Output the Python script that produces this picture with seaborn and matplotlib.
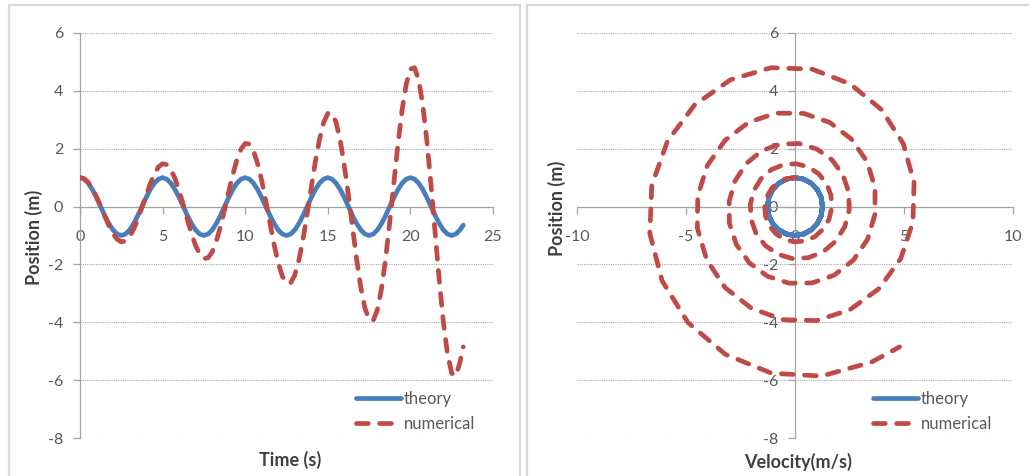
import numpy as np
import pandas as pd
import matplotlib
matplotlib.use("Agg")
import matplotlib.pyplot as plt
from matplotlib.lines import Line2D
from matplotlib.patches import Rectangle
import seaborn as sns

# ---------------------------------------------------------------------------
# Data: harmonic oscillator, exact solution vs. explicit (forward) integration
# ---------------------------------------------------------------------------
time_s = [
    0.0, 0.25, 0.5, 0.75, 1.0, 1.25, 1.5, 1.75, 2.0, 2.25,
    2.5, 2.75, 3.0, 3.25, 3.5, 3.75, 4.0, 4.25, 4.5, 4.75,
    5.0, 5.25, 5.5, 5.75, 6.0, 6.25, 6.5, 6.75, 7.0, 7.25,
    7.5, 7.75, 8.0, 8.25, 8.5, 8.75, 9.0, 9.25, 9.5, 9.75,
    10.0, 10.25, 10.5, 10.75, 11.0, 11.25, 11.5, 11.75, 12.0, 12.25,
    12.5, 12.75, 13.0, 13.25, 13.5, 13.75, 14.0, 14.25, 14.5, 14.75,
    15.0, 15.25, 15.5, 15.75, 16.0, 16.25, 16.5, 16.75, 17.0, 17.25,
    17.5, 17.75, 18.0, 18.25, 18.5, 18.75, 19.0, 19.25, 19.5, 19.75,
    20.0, 20.25, 20.5, 20.75, 21.0, 21.25, 21.5, 21.75, 22.0, 22.25,
    22.5, 22.75, 23.0, 23.2,
]

theory_position = [
    1.00, 0.95, 0.81, 0.59, 0.31, 0.00, -0.31, -0.59, -0.81, -0.95,
    -1.00, -0.95, -0.81, -0.59, -0.31, 0.00, 0.31, 0.59, 0.81, 0.95,
    1.00, 0.95, 0.81, 0.59, 0.31, 0.00, -0.31, -0.59, -0.81, -0.95,
    -1.00, -0.95, -0.81, -0.59, -0.31, 0.00, 0.31, 0.59, 0.81, 0.95,
    1.00, 0.95, 0.81, 0.59, 0.31, 0.00, -0.31, -0.59, -0.81, -0.95,
    -1.00, -0.95, -0.81, -0.59, -0.31, 0.00, 0.31, 0.59, 0.81, 0.95,
    1.00, 0.95, 0.81, 0.59, 0.31, 0.00, -0.31, -0.59, -0.81, -0.95,
    -1.00, -0.95, -0.81, -0.59, -0.31, 0.00, 0.31, 0.59, 0.81, 0.95,
    1.00, 0.95, 0.81, 0.59, 0.31, 0.00, -0.31, -0.59, -0.81, -0.95,
    -1.00, -0.95, -0.81, -0.64,
]

theory_velocity = [
    0.00, -0.39, -0.74, -1.02, -1.20, -1.26, -1.20, -1.02, -0.74, -0.39,
    0.00, 0.39, 0.74, 1.02, 1.20, 1.26, 1.20, 1.02, 0.74, 0.39,
    0.00, -0.39, -0.74, -1.02, -1.20, -1.26, -1.20, -1.02, -0.74, -0.39,
    0.00, 0.39, 0.74, 1.02, 1.20, 1.26, 1.20, 1.02, 0.74, 0.39,
    0.00, -0.39, -0.74, -1.02, -1.20, -1.26, -1.20, -1.02, -0.74, -0.39,
    0.00, 0.39, 0.74, 1.02, 1.20, 1.26, 1.20, 1.02, 0.74, 0.39,
    0.00, -0.39, -0.74, -1.02, -1.20, -1.26, -1.20, -1.02, -0.74, -0.39,
    0.00, 0.39, 0.74, 1.02, 1.20, 1.26, 1.20, 1.02, 0.74, 0.39,
    0.00, -0.39, -0.74, -1.02, -1.20, -1.26, -1.20, -1.02, -0.74, -0.39,
    0.00, 0.39, 0.74, 0.97,
]

numerical_position = [
    1.00, 0.97, 0.84, 0.63, 0.34, 0.01, -0.34, -0.66, -0.94, -1.13,
    -1.22, -1.19, -1.04, -0.78, -0.44, -0.03, 0.39, 0.79, 1.13, 1.37,
    1.48, 1.45, 1.28, 0.97, 0.55, 0.07, -0.45, -0.94, -1.35, -1.65,
    -1.80, -1.77, -1.57, -1.20, -0.70, -0.11, 0.51, 1.11, 1.62, 1.99,
    2.18, 2.16, 1.93, 1.49, 0.89, 0.18, -0.58, -1.31, -1.95, -2.41,
    -2.65, -2.64, -2.37, -1.85, -1.13, -0.26, 0.66, 1.56, 2.33, 2.91,
    3.22, 3.23, 2.91, 2.29, 1.42, 0.38, -0.74, -1.84, -2.80, -3.51,
    -3.91, -3.94, -3.57, -2.84, -1.80, -0.53, 0.83, 2.17, 3.35, 4.24,
    4.75, 4.80, 4.38, 3.51, 2.26, 0.73, -0.93, -2.56, -4.01, -5.11,
    -5.76, -5.86, -5.38, -4.85,
]

numerical_velocity = [
    0.00, -0.39, -0.77, -1.07, -1.29, -1.39, -1.35, -1.18, -0.88, -0.48,
    -0.03, 0.45, 0.91, 1.29, 1.56, 1.69, 1.65, 1.45, 1.09, 0.62,
    0.06, -0.52, -1.08, -1.55, -1.89, -2.05, -2.01, -1.78, -1.36, -0.78,
    -0.11, 0.60, 1.28, 1.86, 2.28, 2.49, 2.46, 2.19, 1.69, 1.00,
    0.18, -0.69, -1.52, -2.23, -2.75, -3.02, -3.01, -2.69, -2.09, -1.26,
    -0.27, 0.78, 1.80, 2.68, 3.33, 3.67, 3.67, 3.30, 2.59, 1.59,
    0.40, -0.88, -2.13, -3.21, -4.02, -4.46, -4.48, -4.05, -3.21, -2.01,
    -0.57, 0.99, 2.51, 3.85, 4.85, 5.41, 5.46, 4.97, 3.97, 2.53,
    0.79, -1.11, -2.97, -4.61, -5.85, -6.57, -6.66, -6.10, -4.91, -3.19,
    -1.08, 1.22, 3.50, 4.80,
]

series_names = ["theory", "numerical"]
time_ticks = [0, 5, 10, 15, 20, 25]
velocity_ticks = [-10, -5, 0, 5, 10]
position_ticks = [-8, -6, -4, -2, 0, 2, 4, 6]

# ---------------------------------------------------------------------------
# Styling
# ---------------------------------------------------------------------------
sns.set_style("white")
plt.rcParams["font.family"] = ["Lato", "DejaVu Sans"]
plt.rcParams["axes.unicode_minus"] = False

BLUE = "#4A7EBB"
RED = "#BE4B48"
palette = {"theory": BLUE, "numerical": RED}
dashes = {"theory": "", "numerical": (2.5, 2.4)}
LINE_W = 3.4
AXIS_GREY = "#a3a3a3"
GRID_GREY = "#a8a8a8"
TICK_TEXT = "#595959"
TITLE_TEXT = "#3f3f3f"

n = len(time_s)
df = pd.DataFrame({
    "time": time_s * 2,
    "position": theory_position + numerical_position,
    "velocity": theory_velocity + numerical_velocity,
    "series": ["theory"] * n + ["numerical"] * n,
})

W, H = 1029, 476
fig = plt.figure(figsize=(W / 100, H / 100), dpi=100)
fig.patch.set_facecolor("white")

# chart-area frames
for x0, x1 in [(9, 520), (527, 1040)]:
    fig.patches.append(Rectangle((x0 / W, -0.05), (x1 - x0) / W, (H - 5) / H + 0.05,
                                 transform=fig.transFigure, fill=False,
                                 edgecolor="#d9d9d9", linewidth=1.6, zorder=0))

ax1 = fig.add_axes([80 / W, 1 - 438 / H, 413 / W, 405 / H])
ax2 = fig.add_axes([577 / W, 1 - 438 / H, 436 / W, 405 / H])

common = dict(hue="series", style="series", hue_order=series_names,
              style_order=series_names, palette=palette, dashes=dashes,
              linewidth=LINE_W, estimator=None, sort=False, legend=False)

sns.lineplot(data=df, x="time", y="position", ax=ax1, **common)
sns.lineplot(data=df, x="velocity", y="position", ax=ax2, **common)


def style_axes(ax, xlim, xticks):
    ax.set_xlim(*xlim)
    ax.set_ylim(-8, 6)
    ax.set_xticks(xticks)
    ax.set_yticks(position_ticks)
    ax.set_facecolor("none")
    ax.set_axisbelow(True)
    for side in ("top", "right"):
        ax.spines[side].set_visible(False)
    for side in ("left", "bottom"):
        ax.spines[side].set_position(("data", 0))
        ax.spines[side].set_color(AXIS_GREY)
        ax.spines[side].set_linewidth(0.9)
        ax.spines[side].set_zorder(1)
    ax.yaxis.grid(True, linestyle=(0, (1, 1)), color=GRID_GREY, linewidth=0.8)
    ax.xaxis.grid(False)
    ax.tick_params(axis="y", direction="out", length=5, width=0.9, color=AXIS_GREY,
                   pad=7, labelsize=11.5, labelcolor=TICK_TEXT, left=True)
    ax.tick_params(axis="x", direction="out", length=5, width=0.9, color=AXIS_GREY,
                   pad=12, labelsize=11.5, labelcolor=TICK_TEXT, bottom=True)
    for line in ax.lines:
        line.set_dash_capstyle("round")
        line.set_solid_capstyle("round")
        line.set_solid_joinstyle("round")
        line.set_zorder(3)


style_axes(ax1, (0, 25), time_ticks)
style_axes(ax2, (-10, 10), velocity_ticks)

label_font = dict(fontsize=13, fontweight="bold", color=TITLE_TEXT)
ax1.set_xlabel("Time (s)", **label_font)
ax1.set_ylabel("Position (m)", **label_font)
ax2.set_xlabel("Velocity(m/s)", **label_font)
ax2.set_ylabel("Position (m)", **label_font)
ax1.xaxis.set_label_coords(0.508, -0.033)
ax1.yaxis.set_label_coords(-0.090, 0.496)
ax2.xaxis.set_label_coords(0.507, -0.036)
ax2.yaxis.set_label_coords(-0.025, 0.568)

handles = [
    Line2D([], [], color=BLUE, linewidth=LINE_W, solid_capstyle="round"),
    Line2D([], [], color=RED, linewidth=LINE_W, linestyle=(0, dashes["numerical"]),
           dash_capstyle="round"),
]
for ax, anchor in [(ax1, (0.668, 0.116)), (ax2, (0.679, 0.116))]:
    ax.legend(handles, series_names, loc="upper left", bbox_to_anchor=anchor,
              frameon=False, fontsize=12, labelcolor=TICK_TEXT,
              handlelength=2.7, handletextpad=0.15, labelspacing=0.55,
              borderpad=0, borderaxespad=0)

fig.savefig("out.png", dpi=100, facecolor="white")
